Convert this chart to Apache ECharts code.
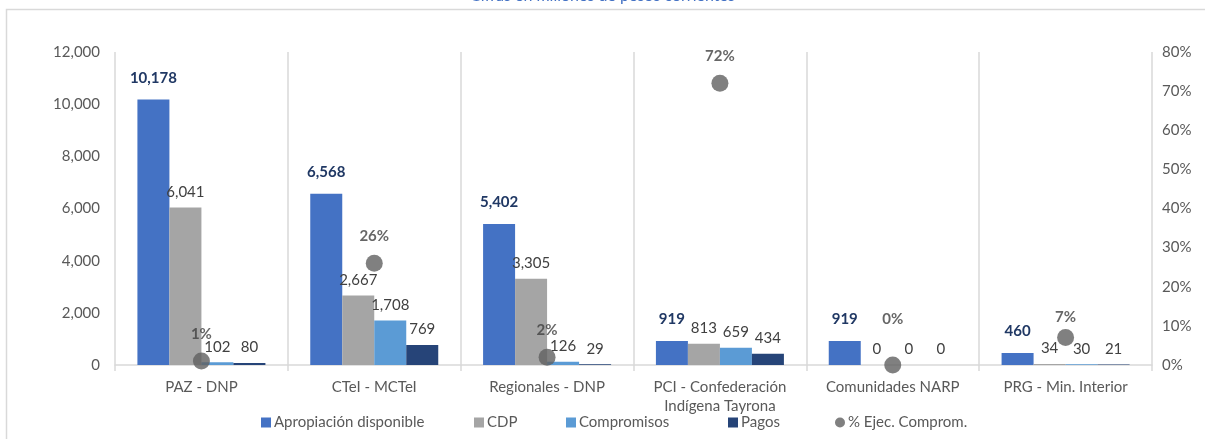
<!DOCTYPE html>
<html>
<head>
<meta charset="utf-8">
<script src="https://cdn.jsdelivr.net/npm/echarts@6/dist/echarts.min.js"></script>
<style>
  html, body { margin: 0; padding: 0; background: #fff; }
  #chart { width: 1205px; height: 439px; }
</style>
</head>
<body>
<div id="chart"></div>
<script>
const categories = [
  "PAZ - DNP",
  "CTeI - MCTeI",
  "Regionales - DNP",
  "PCI - Confederación\nIndígena Tayrona",
  "Comunidades NARP",
  "PRG - Min. Interior",
]
const apropiacion = [10178, 6568, 5402, 919, 919, 460]
const cdp = [6041, 2667, 3305, 813, 0, 34]
const compromisos = [102, 1708, 126, 659, 0, 30]
const pagos = [80, 769, 29, 434, 0, 21]
const ejecCompromisos = [0.01, 0.26, 0.02, 0.72, 0, 0.07]

const seriesNames = ["Apropiación disponible", "CDP", "Compromisos", "Pagos", "% Ejec. Comprom."]

const font = "Lato"
const gridColor = "#d9d9d9"
const textColor = "#595959"
const fmt = v => Number(v).toLocaleString("en-US")

function barSeries(name, data, color, label) {
  return {
    name,
    type: "bar",
    data,
    barWidth: 32,
    barGap: "0%",
    itemStyle: { color },
    label: Object.assign({
      show: true,
      position: "top",
      fontFamily: font,
      fontSize: 15,
      color: "#404040",
      distance: 8,
      formatter: p => fmt(p.value),
    }, label || {}),
  }
}

// one legend per entry so each sits where the original puts it
const legendLeft = [261, 474, 566, 728, 835]
const legends = seriesNames.map((name, i) => ({
  left: legendLeft[i],
  bottom: 9,
  padding: 0,
  itemWidth: 10,
  itemHeight: 10,
  textStyle: { color: textColor, fontSize: 15, fontFamily: font, padding: [0, 0, 0, -2] },
  data: [{ name, icon: i === 4 ? "circle" : "rect" }],
}))

// the original nudges some % labels to dodge the bar labels
const pctLabelDistance = [11, 11, 11, 11, 30, 4]

const chart = echarts.init(document.getElementById("chart"), null, { renderer: "canvas" })
chart.setOption({
  animation: false,
  textStyle: { fontFamily: font },
  title: {
    text: "Cifras en millones de pesos corrientes",
    left: "center",
    top: -17,
    textStyle: { color: "#4472c4", fontSize: 16, fontWeight: "normal", fontFamily: font },
  },
  graphic: [{
    type: "rect",
    shape: { x: 6.5, y: 9.5, width: 1300, height: 600 },
    style: { fill: "none", stroke: gridColor, lineWidth: 1.5 },
    silent: true,
  }],
  legend: legends,
  grid: { left: 115, right: 53, top: 52, bottom: 74 },
  xAxis: {
    type: "category",
    data: categories,
    axisLine: { lineStyle: { color: gridColor, width: 1.5 } },
    axisTick: { show: true, interval: 0, length: 6, lineStyle: { color: gridColor, width: 1.5 } },
    splitLine: { show: true, interval: 0, lineStyle: { color: gridColor, width: 1.5 } },
    axisLabel: { interval: 0, color: textColor, fontSize: 15, margin: 13, lineHeight: 19, fontFamily: font },
  },
  yAxis: [
    {
      type: "value",
      min: 0,
      max: 12000,
      interval: 2000,
      splitLine: { show: false },
      axisLine: { show: false },
      axisTick: { show: false },
      axisLabel: { color: textColor, fontSize: 15, margin: 15, fontFamily: font, formatter: v => fmt(v) },
    },
    {
      type: "value",
      min: 0,
      max: 0.8,
      interval: 0.1,
      splitLine: { show: false },
      axisLine: { show: false },
      axisTick: { show: false },
      axisLabel: { color: textColor, fontSize: 15, margin: 10, fontFamily: font, formatter: v => Math.round(v * 100) + "%" },
    },
  ],
  series: [
    barSeries(seriesNames[0], apropiacion, "#4472c4",
      { fontWeight: "bold", color: "#203864", distance: 14 }),
    barSeries(seriesNames[1], cdp, "#a5a5a5"),
    barSeries(seriesNames[2], compromisos, "#5b9bd5"),
    barSeries(seriesNames[3], pagos, "#264478"),
    {
      name: seriesNames[4],
      type: "scatter",
      yAxisIndex: 1,
      data: ejecCompromisos.map((v, i) => ({ value: v, label: { distance: pctLabelDistance[i] } })),
      symbol: "circle",
      symbolSize: 17,
      itemStyle: { color: "#606060" },
      z: 5,
      label: {
        show: true,
        position: "top",
        fontFamily: font,
        fontSize: 15,
        fontWeight: "bold",
        color: "#404040",
        formatter: p => Math.round(p.value * 100) + "%",
      },
    },
  ],
})
</script>
</body>
</html>
